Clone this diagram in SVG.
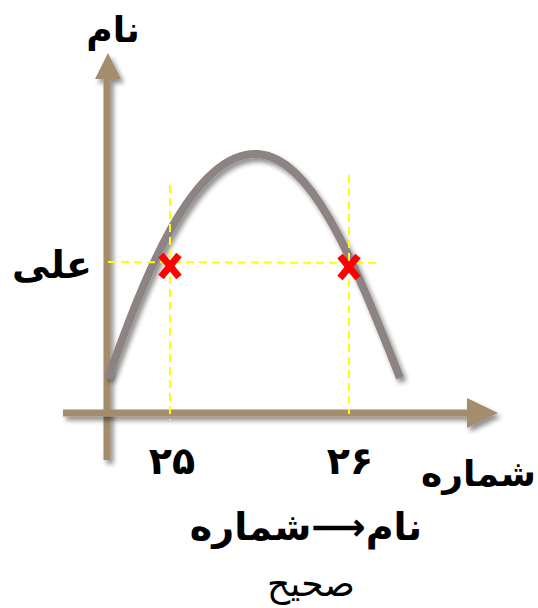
<svg xmlns="http://www.w3.org/2000/svg" width="538" height="608" viewBox="0 0 538 608">
<style>
.ax{stroke:#A38D6D;stroke-width:7;fill:none}
.axh{fill:#A38D6D}
.guide{stroke:#FFFF00;stroke-width:2;stroke-dasharray:8,5;fill:none}
.cross{stroke:#FF0000;stroke-width:7;stroke-linecap:butt}
.t{font-family:"DejaVu Sans",sans-serif;fill:#000;font-weight:bold}
</style>
<defs>
<filter id="sh" x="-20%" y="-20%" width="140%" height="140%">
<feGaussianBlur in="SourceAlpha" stdDeviation="2.5"/>
<feOffset dx="3" dy="4" result="b"/>
<feComponentTransfer><feFuncA type="linear" slope="0.45"/></feComponentTransfer>
<feMerge><feMergeNode/><feMergeNode in="SourceGraphic"/></feMerge>
</filter>
</defs>
<g id="connectors">
<g id="y-axis" filter="url(#sh)">
<line class="ax" x1="107" y1="460" x2="107" y2="76"/>
<polygon class="axh" points="108,53 95,79 121,79"/>
</g>
<g id="x-axis" filter="url(#sh)">
<line class="ax" x1="63" y1="413" x2="470" y2="413"/>
<polygon class="axh" points="498,413 467,398 467,428"/>
</g>
<g id="curve" filter="url(#sh)">
<path d="M108,378 C140,290 190,150 258,154 C310,158 350,250 400,378" stroke="#8E8383" stroke-width="8" fill="none"/>
</g>
<g id="guides">
<line class="guide" x1="170" y1="185" x2="170" y2="420"/>
<line class="guide" x1="349" y1="175" x2="349" y2="414"/>
<line class="guide" x1="108" y1="262" x2="380" y2="263" filter="url(#sh)"/>
</g>
</g>
<g id="marker-25">
<line class="cross" x1="161" y1="255" x2="179" y2="277"/>
<line class="cross" x1="179" y1="255" x2="161" y2="277"/>
</g>
<g id="marker-26">
<line class="cross" x1="340" y1="256" x2="358" y2="278"/>
<line class="cross" x1="358" y1="256" x2="340" y2="278"/>
</g>
<g id="label-name"><text class="t" x="113" y="42" font-size="36" text-anchor="middle">نام</text></g>
<g id="label-ali"><text class="t" x="52" y="278" font-size="38" text-anchor="middle">علی</text></g>
<g id="label-25"><text class="t" x="172" y="474" font-size="38" text-anchor="middle">۲۵</text></g>
<g id="label-26"><text class="t" x="350" y="474" font-size="38" text-anchor="middle">۲۶</text></g>
<g id="label-shomare"><text class="t" x="536" y="486" font-size="36" text-anchor="end">شماره</text></g>
<g id="label-fd"><text class="t" x="306" y="540" font-size="38" text-anchor="middle">نام⟶شماره</text></g>
<g id="label-sahih"><text x="311" y="596" font-size="36" text-anchor="middle" font-family="DejaVu Sans, sans-serif" fill="#000">صحیح</text></g>
</svg>
